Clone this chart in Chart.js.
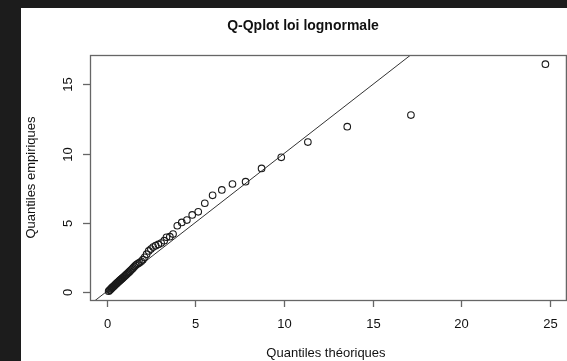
<!DOCTYPE html>
<html>
<head>
<meta charset="utf-8">
<script src="https://cdn.jsdelivr.net/npm/chart.js@4"></script>
<style>
  html, body { margin: 0; padding: 0; background: #1c1c1c; }
  #panel { position: absolute; left: 21px; top: 8px; width: 546px; height: 353px; background: #fff; }
</style>
</head>
<body>
<div id="panel"><canvas id="qq"></canvas></div>
<script>
// theoretical lognormal quantiles (x) and sorted sample values (y)
const theoX = [0.12, 0.17, 0.21, 0.25, 0.29, 0.32, 0.36, 0.39, 0.43, 0.46, 0.50, 0.53, 0.57,
  0.60, 0.64, 0.68, 0.72, 0.76, 0.80, 0.84, 0.88, 0.92, 0.97, 1.01, 1.06, 1.11, 1.16,
  1.21, 1.26, 1.32, 1.38, 1.44, 1.50, 1.57, 1.64, 1.71, 1.79, 1.87, 1.96, 2.05, 2.15,
  2.26, 2.38, 2.50, 2.63, 2.77, 2.92, 3.08, 3.25,
  3.38, 3.57, 3.75, 3.99, 4.24, 4.53, 4.83, 5.17,
  5.54, 5.98, 6.50, 7.10, 7.84, 8.74, 9.85, 11.35, 13.57, 17.16, 24.74];
const empY = [0.08, 0.14, 0.19, 0.25, 0.30, 0.34, 0.39, 0.42, 0.47, 0.51, 0.56, 0.60, 0.64,
  0.68, 0.72, 0.77, 0.82, 0.87, 0.91, 0.96, 1.00, 1.05, 1.10, 1.15, 1.21, 1.27, 1.33,
  1.39, 1.45, 1.52, 1.60, 1.68, 1.76, 1.86, 1.95, 2.02, 2.08, 2.15, 2.24, 2.35, 2.52,
  2.75, 2.98, 3.12, 3.26, 3.36, 3.45, 3.55, 3.72,
  3.97, 4.01, 4.20, 4.80, 5.04, 5.21, 5.58, 5.80,
  6.42, 6.99, 7.38, 7.81, 7.98, 8.93, 9.73, 10.83, 11.94, 12.78, 16.45];

// qqline: reference line through the quartiles
const lineIntercept = 0.05;
const lineSlope = 0.995;
const lineX = [-2, 28];

const xTicks = [0, 5, 10, 15, 20, 25];
const yTicks = [0, 5, 10, 15];

const titleText = "Q-Qplot loi lognormale";
const xTitle = "Quantiles théoriques";
const yTitle = "Quantiles empiriques";

const points = theoX.map((x, i) => ({ x: x, y: empY[i] }));
const linePts = lineX.map((x) => ({ x: x, y: lineIntercept + lineSlope * x }));

// R-style frame, ticks and labels drawn off the chart's scales
const rAxes = {
  id: "rAxes",
  afterDraw(chart) {
    const ctx = chart.ctx;
    const a = chart.chartArea;
    const sx = chart.scales.x;
    const sy = chart.scales.y;
    ctx.save();
    ctx.strokeStyle = "#666";
    ctx.lineWidth = 1.3;
    ctx.strokeRect(a.left + 0.5, a.top + 0.5, a.right - a.left + 4, a.bottom - a.top);

    ctx.fillStyle = "#111";
    ctx.font = "13px 'Liberation Sans', Arial, sans-serif";
    ctx.textAlign = "center";
    ctx.textBaseline = "middle";
    xTicks.forEach((v) => {
      const px = Math.round(sx.getPixelForValue(v)) + 0.5;
      ctx.beginPath();
      ctx.moveTo(px, a.bottom);
      ctx.lineTo(px, a.bottom + 7);
      ctx.stroke();
      ctx.fillText(String(v), px, a.bottom + 24);
    });
    yTicks.forEach((v) => {
      const py = Math.round(sy.getPixelForValue(v)) + 0.5;
      ctx.beginPath();
      ctx.moveTo(a.left, py);
      ctx.lineTo(a.left - 7, py);
      ctx.stroke();
      ctx.save();
      ctx.translate(a.left - 22, py);
      ctx.rotate(-Math.PI / 2);
      ctx.fillText(String(v), 0, 0);
      ctx.restore();
    });

    ctx.fillText(xTitle, (a.left + a.right) / 2, a.bottom + 53);
    ctx.save();
    ctx.translate(10, (a.top + a.bottom) / 2);
    ctx.rotate(-Math.PI / 2);
    ctx.fillText(yTitle, 0, 0);
    ctx.restore();

    ctx.font = "bold 14px 'Liberation Sans', Arial, sans-serif";
    ctx.fillText(titleText, 282, 18);
    ctx.restore();
  },
};

new Chart("qq", {
  type: "scatter",
  data: {
    datasets: [
      {
        data: points,
        pointStyle: "circle",
        pointRadius: 3.3,
        pointBorderWidth: 1.1,
        borderColor: "#1a1a1a",
        backgroundColor: "rgba(0,0,0,0)",
      },
      {
        type: "line",
        data: linePts,
        borderColor: "#333",
        borderWidth: 1,
        pointRadius: 0,
        fill: false,
      },
    ],
  },
  options: {
    responsive: true,
    maintainAspectRatio: false,
    animation: false,
    layout: { padding: { top: 47, left: 0, right: 0, bottom: 0 } },
    plugins: { legend: { display: false }, tooltip: { enabled: false } },
    scales: {
      x: {
        type: "linear",
        min: -0.931,
        max: 25.67,
        grid: { display: false },
        border: { display: false },
        ticks: { display: false },
        afterFit: (s) => { s.height = 61; },
      },
      y: {
        type: "linear",
        min: -0.555,
        max: 17.11,
        grid: { display: false },
        border: { display: false },
        ticks: { display: false },
        afterFit: (s) => { s.width = 69; },
      },
    },
  },
  plugins: [rAxes],
});
</script>
</body>
</html>
